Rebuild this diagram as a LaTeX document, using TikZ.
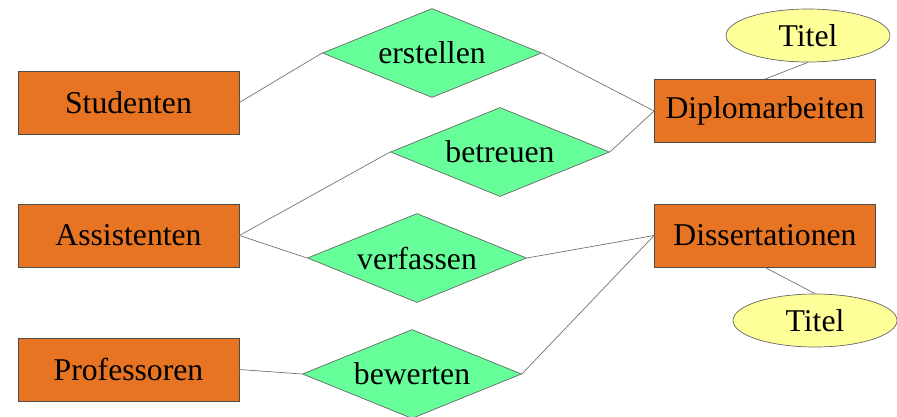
\documentclass[tikz,border=0pt]{standalone}
\usepackage{fontspec}
\setmainfont{Liberation Serif}
\newfontfamily\erfont{Liberation Serif}
\usetikzlibrary{shapes.geometric}
\definecolor{entityorange}{RGB}{230,116,34}
\definecolor{relgreen}{RGB}{102,255,153}
\definecolor{attryellow}{RGB}{255,255,153}
\begin{document}
\begin{tikzpicture}[
    x=1pt, y=-1pt,
    entity/.style={
        rectangle,
        minimum width=221pt,
        minimum height=63pt,
        draw=black!70,
        line width=0.8pt,
        fill=entityorange,
        inner sep=0pt,
        font=\erfont\fontsize{31.7}{38}\selectfont
    },
    relation/.style={
        diamond,
        aspect=2.46,
        minimum width=219pt,
        minimum height=89pt,
        draw=black!60,
        line width=0.7pt,
        fill=relgreen,
        inner sep=0pt,
        font=\erfont\fontsize{31.7}{38}\selectfont
    },
    attribute/.style={
        ellipse,
        minimum width=164pt,
        minimum height=53pt,
        draw=black!60,
        line width=0.7pt,
        fill=attryellow,
        inner sep=0pt,
        font=\erfont\fontsize{31.7}{38}\selectfont
    },
    link/.style={
        draw=black!55,
        line width=0.7pt
    }
]
\clip (0,0) rectangle (897,416);

% Entities
\node[entity] (studenten) at (128.5,102.5) {Studenten};
\node[entity] (assistenten) at (128.5,235.5) {Assistenten};
\node[entity] (professoren) at (128.5,369.5) {Professoren};
\node[entity] (diplom) at (765,111) {Diplomarbeiten};
\node[entity] (diss) at (765,235.5) {Dissertationen};

% Relationships
\node[relation] (erstellen) at (432,53) {erstellen};
\node[relation] (betreuen) at (500,152) {betreuen};
\node[relation] (verfassen) at (417,258) {verfassen};
\node[relation] (bewerten) at (412,374) {bewerten};

% Attributes
\node[attribute] (titelA) at (808,35.5) {Titel};
\node[attribute] (titelB) at (815,320.5) {Titel};

% Connections
\draw[link] (studenten.east) -- (erstellen.west);
\draw[link] (erstellen.east) -- (diplom.west);
\draw[link] (assistenten.east) -- (betreuen.west);
\draw[link] (betreuen.east) -- (diplom.west);
\draw[link] (assistenten.east) -- (verfassen.west);
\draw[link] (verfassen.east) -- (diss.west);
\draw[link] (professoren.east) -- (bewerten.west);
\draw[link] (bewerten.east) -- (diss.west);
\draw[link] (titelA.south) -- (diplom.north);
\draw[link] (diss.south) -- (titelB.north);

\end{tikzpicture}
\end{document}
